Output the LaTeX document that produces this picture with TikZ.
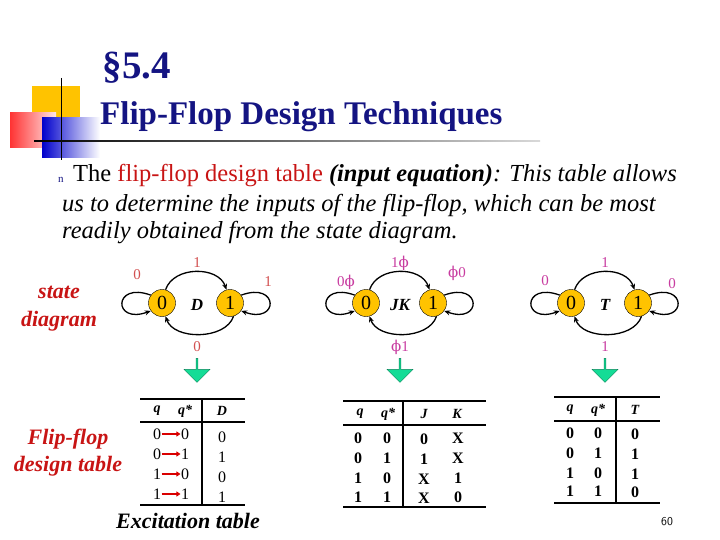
\documentclass[tikz,border=0pt]{standalone}
\usepackage{fontspec}
\setmainfont{Liberation Serif}
\newfontfamily\sym{DejaVu Serif}
\usetikzlibrary{arrows.meta,shapes.arrows}
\definecolor{navy}{RGB}{20,20,130}
\definecolor{dred}{RGB}{200,20,20}
\definecolor{lred}{RGB}{210,80,80}
\definecolor{mag}{RGB}{200,60,160}
\definecolor{st}{RGB}{255,195,0}
\definecolor{grn}{RGB}{20,220,150}
\begin{document}
\begin{tikzpicture}[x=1pt,y=-1pt,
  state/.style={circle,draw=black,fill=st,minimum size=27pt,inner sep=0pt,font=\fontsize{20}{20}\selectfont},
  edge/.style={-{Stealth[length=6pt,width=5pt]},line width=1.3pt},
  lab/.style={font=\fontsize{15}{15}\selectfont},
  ttx/.style={font=\bfseries\fontsize{16}{16}\selectfont},
  ttr/.style={font=\fontsize{16}{16}\selectfont},
  thd/.style={font=\bfseries\itshape\fontsize{14}{14}\selectfont},
  tl/.style={line width=2.5pt},
  down/.style={single arrow,shape border rotate=270,fill=grn,draw=grn!60!black,minimum width=26pt,minimum height=24pt,single arrow head extend=3pt,inner sep=0pt}]
\useasboundingbox (0,0) rectangle (720,540);
% decoration
\fill[st] (32,86) rectangle (80,121);
\shade[left color=red!80,right color=red!10] (10,113) rectangle (56,148);
\shade[left color=blue!80!black,right color=white] (42,118) rectangle (100,158);
\draw[line width=1pt] (61,78) -- (61,160);
\shade[left color=black,right color=gray!30] (34,140.3) rectangle (540,141.7);
\node[font=\bfseries\fontsize{39}{39}\selectfont,text=navy] (t1) at (137,68) {§5.4};
\node[font=\bfseries\fontsize{33}{33}\selectfont,text=navy,anchor=west,inner sep=0pt] (t2) at (100,117) {Flip-Flop Design Techniques};
% paragraph
\node[anchor=west,font=\fontsize{11}{11}\selectfont,text=navy,inner sep=0pt] (bul) at (58,180) {n};
\node[anchor=west,font=\fontsize{24.5}{24.5}\selectfont,inner sep=0pt] (p1) at (73,176) {The {\color{dred}flip-flop design table} \textbf{\textit{(input equation)}}\textit{: This table allows}};
\node[anchor=west,font=\itshape\fontsize{24.5}{24.5}\selectfont,inner sep=0pt] (p2) at (62,205) {us to determine the inputs of the flip-flop, which can be most};
\node[anchor=west,font=\itshape\fontsize{24.5}{24.5}\selectfont,inner sep=0pt] (p3) at (62,233) {readily obtained from the state diagram.};
% side labels
\node[font=\bfseries\itshape\fontsize{22}{28}\selectfont,text=dred,align=center] (sd) at (59,309) {state\\diagram};
\node[font=\bfseries\itshape\fontsize{22}{27}\selectfont,text=dred,align=center] (fd) at (68,453) {Flip-flop\\design table};
% diagrams
\foreach \n/\xa/\xb/\mid/\ax/\col/\la/\lb/\lc/\ld in {D/162/230/D/197/lred/1/0/1/0, JK/366/433/JK/400/mag/1{\sym ϕ}/0{\sym ϕ}/{\sym ϕ}0/{\sym ϕ}1, T/571/638/T/605/mag/1/0/0/1}{
  \node[state] (\n a) at (\xa,303) {0};
  \node[state] (\n b) at (\xb,303) {1};
  \node[font=\bfseries\itshape\fontsize{17}{17}\selectfont] (\n m) at (\ax,305) {\mid};
  \draw[edge] (\n a.75) .. controls +(8,-24) and +(-8,-24) .. (\n b.105);
  \draw[edge] (\n b.-75) .. controls +(-8,24) and +(8,24) .. (\n a.-75);
  \draw[edge] (\n a.145) .. controls +(-38,-14) and +(-38,14) .. (\n a.-145);
  \draw[edge] (\n b.35) .. controls +(38,-14) and +(38,14) .. (\n b.-35);
  \node[lab,text=\col] (\n l1) at (\ax,263) {\la};
  \node[lab,text=\col] (\n l2) at (\ax,347) {\ld};
  \node[down] (\n g) at (\ax,370) {};
}
\node[lab,text=lred] (Dl3) at (137,275) {0};
\node[lab,text=lred] (Dl4) at (268,282) {1};
\node[lab,text=mag] (JKl3) at (346,282) {0{\sym ϕ}};
\node[lab,text=mag] (JKl4) at (457,273) {{\sym ϕ}0};
\node[lab,text=mag] (Tl3) at (545,281) {0};
\node[lab,text=mag] (Tl4) at (672,284) {0};
% D table
\draw[tl] (140,399) -- (245,399) (140,422) -- (245,422) (140,505) -- (245,505) (202,399) -- (202,505);
\node[thd] (dh1) at (157,411) {q}; \node[thd] (dh2) at (185,411) {q*}; \node[thd] (dh3) at (222,411) {D};
\foreach \y/\a/\b/\c [count=\i] in {434/0/0/0,454/0/1/1,474/1/0/0,494/1/1/1}{
  \node[ttr] (da\i) at (157,\y) {\a};
  \node[ttr] (db\i) at (185,\y) {\b};
  \node[ttr] (dc\i) at (222,\y+3) {\c};
  \draw[-{Triangle[length=4pt,width=5pt]},line width=2pt,red!85!black,shorten <=-3pt,shorten >=-3pt] (da\i) -- (db\i);
}
\node[font=\bfseries\itshape\fontsize{22}{22}\selectfont] (ex) at (188,521) {Excitation table};
% JK table
\draw[tl] (343,401) -- (486,401) (343,425) -- (486,425) (343,507) -- (486,507) (403,401) -- (403,507);
\node[thd] (jh1) at (360,414) {q}; \node[thd] (jh2) at (388,414) {q*}; \node[thd] (jh3) at (424,414) {J}; \node[thd] (jh4) at (457,414) {K};
\foreach \y/\a/\b/\c/\d [count=\i] in {438/0/0/0/X,458/0/1/1/X,478/1/0/X/1,497/1/1/X/0}{
  \node[ttx] (ja\i) at (358,\y) {\a}; \node[ttx] (jb\i) at (387,\y) {\b};
  \node[ttx] (jc\i) at (424,\y+1) {\c}; \node[ttx] (jd\i) at (458,\y) {\d};
}
% T table
\draw[tl] (554,397) -- (660,397) (554,421) -- (660,421) (554,503) -- (660,503) (616,397) -- (616,503);
\node[thd] (th1) at (570,410) {q}; \node[thd] (th2) at (598,410) {q*}; \node[thd] (th3) at (635,410) {T};
\foreach \y/\a/\b/\c [count=\i] in {433/0/0/0,453/0/1/1,473/1/0/1,491/1/1/0}{
  \node[ttx] (ta\i) at (570,\y) {\a}; \node[ttx] (tb\i) at (598,\y) {\b}; \node[ttx] (tc\i) at (635,\y+1) {\c};
}
\node[font=\sffamily\fontsize{12}{12}\selectfont] (pg) at (667,522) {60};
\end{tikzpicture}
\end{document}
